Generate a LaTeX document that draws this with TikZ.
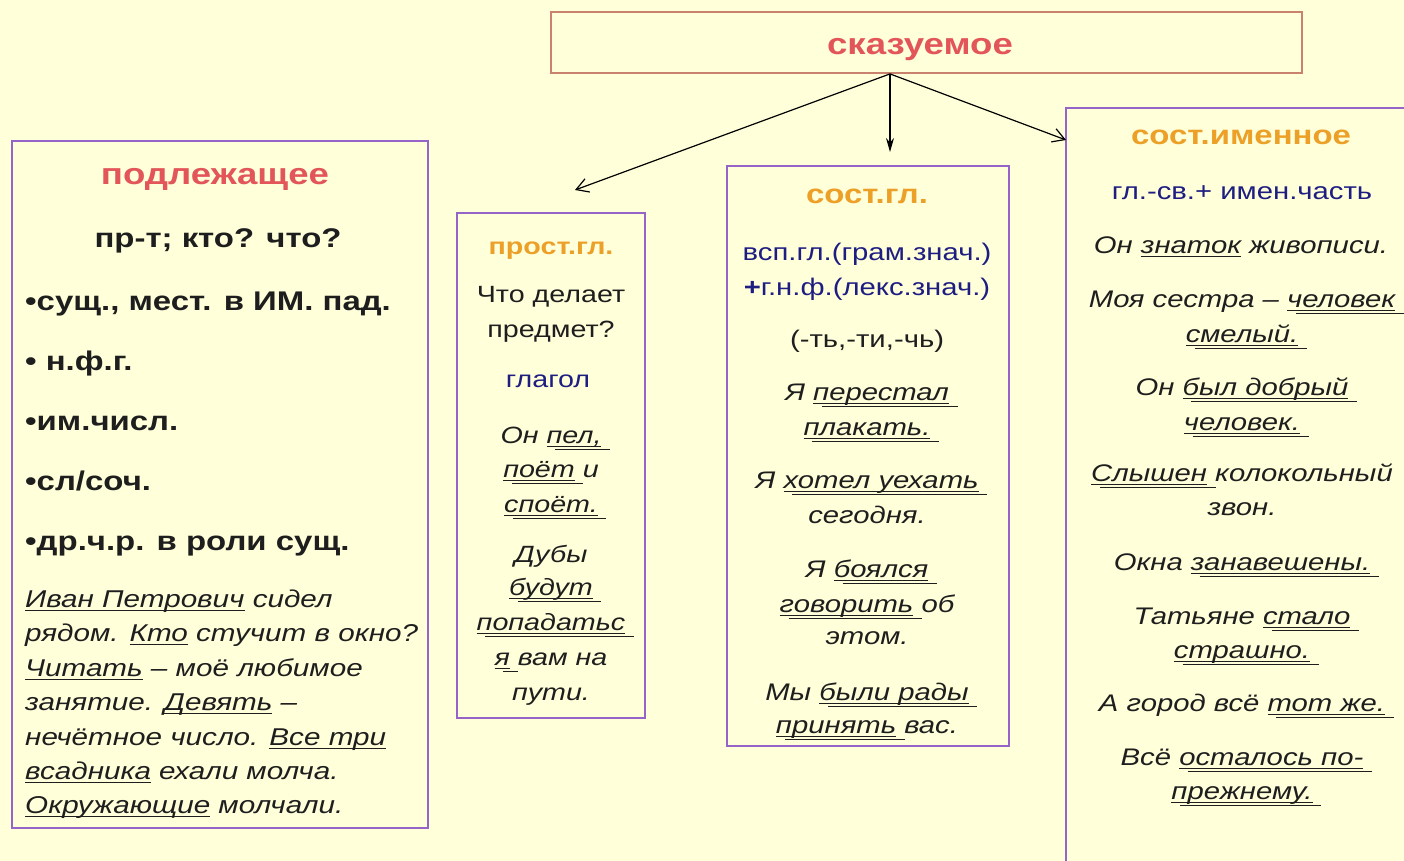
\documentclass[tikz,border=0pt]{standalone}
\usepackage{fontspec}
\setmainfont{Liberation Sans}
\usepackage{graphicx}
\usetikzlibrary{arrows.meta}
\definecolor{bg}{RGB}{255,255,218}
\definecolor{boxline}{RGB}{150,100,200}
\definecolor{topline}{RGB}{200,130,110}
\definecolor{titlered}{RGB}{226,86,90}
\definecolor{titleorange}{RGB}{236,160,40}
\definecolor{navy}{RGB}{30,30,130}
\definecolor{ink}{RGB}{30,30,30}
\newcommand\hs[1]{\scalebox{1.22}[1]{#1}}
\newcommand\fs[1]{\fontsize{#1}{#1}\selectfont}
\newcommand\ul[1]{\setbox0\hbox{#1}\leavevmode\rlap{\rule[-3.5pt]{\wd0}{1pt}}\box0\relax}
\newcommand\uu[1]{\setbox0\hbox{#1}\leavevmode\rlap{\rule[-3.5pt]{\wd0}{1pt}}\rlap{\kern0.3em\rule[-7pt]{\wd0}{1pt}}\box0\relax}
\begin{document}
\begin{tikzpicture}[x=1pt,y=-1pt,
  box/.style={draw=boxline,line width=1.8pt,fill=bg,inner sep=0pt},
  topbox/.style={draw=topline,line width=1.8pt,fill=bg,inner sep=0pt},
  tc/.style={inner sep=0pt,anchor=base,text=ink},
  tl/.style={inner sep=0pt,anchor=base west,text=ink},
  arr/.style={line width=1.2pt,draw=black}]
\clip (0,0) rectangle (1404,861);
\fill[bg] (0,0) rectangle (1404,861);
% boxes
\node[topbox,minimum width=751pt,minimum height=61pt] (top) at (926.5,42.5) {};
\node[box,minimum width=416pt,minimum height=687pt] (left) at (220,484.5) {};
\node[box,minimum width=188pt,minimum height=505pt] (prost) at (551,465.5) {};
\node[box,minimum width=282pt,minimum height=580pt] (sgl) at (868,456) {};
\node[box,minimum width=354pt,minimum height=780pt] (sim) at (1243,498) {};
% top title
\node[tc,text=titlered] (t0) at (920,55) {\fs{30}\bfseries\hs{сказуемое}};
% arrows
\coordinate (src) at ([xshift=-36.5pt]top.south);
\coordinate (e1) at (575,190);
\coordinate (e2) at (890,152);
\coordinate (e3) at (1066,140);
\draw[arr,-{Straight Barb[length=12pt,width=14pt]}] (src) -- (e1);
\draw[arr,-{Stealth[length=14pt,width=8pt]}] (src) -- (e2);
\draw[arr,-{Straight Barb[length=12pt,width=14pt]}] (src) -- (e3);
% left box
\node[tc,text=titlered] (l0) at (215,185) {\fs{30}\bfseries\hs{подлежащее}};
\node[tc] (l1) at (218,247) {\fs{27}\bfseries\hs{пр-т; кто? что?}};
\node[tl] (l2) at (25,310) {\fs{27}\bfseries\hs{•сущ., мест. в ИМ. пад.}};
\node[tl] (l3) at (25,370) {\fs{27}\bfseries\hs{• н.ф.г.}};
\node[tl] (l4) at (25,430) {\fs{27}\bfseries\hs{•им.числ.}};
\node[tl] (l5) at (25,490) {\fs{27}\bfseries\hs{•сл/соч.}};
\node[tl] (l6) at (25,550) {\fs{27}\bfseries\hs{•др.ч.р. в роли сущ.}};
\node[tl] (l7) at (25,607) {\fs{24.3}\itshape\hs{\ul{Иван Петрович} сидел}};
\node[tl] (l8) at (25,641) {\fs{24.3}\itshape\hs{рядом. \ul{Кто} стучит в окно?}};
\node[tl] (l9) at (25,676) {\fs{24.3}\itshape\hs{\ul{Читать} – моё любимое}};
\node[tl] (l10) at (25,710) {\fs{24.3}\itshape\hs{занятие. \ul{Девять} –}};
\node[tl] (l11) at (25,745) {\fs{24.3}\itshape\hs{нечётное число. \ul{Все три}}};
\node[tl] (l12) at (25,779) {\fs{24.3}\itshape\hs{\ul{всадника} ехали молча.}};
\node[tl] (l13) at (25,813) {\fs{24.3}\itshape\hs{\ul{Окружающие} молчали.}};
% prost box
\node[tc,text=titleorange] (p0) at (551,254) {\fs{23.5}\bfseries\hs{прост.гл.}};
\node[tc] (p1) at (551,302) {\fs{23.5}\hs{Что делает}};
\node[tc] (p2) at (551,337) {\fs{23.5}\hs{предмет?}};
\node[tc,text=navy] (p3) at (548,387) {\fs{23.5}\hs{глагол}};
\node[tc] (p4) at (551,443) {\fs{23.5}\itshape\hs{Он \uu{пел,}}};
\node[tc] (p5) at (551,477) {\fs{23.5}\itshape\hs{\uu{поёт} и}};
\node[tc] (p6) at (551,512) {\fs{23.5}\itshape\hs{\uu{споёт.}}};
\node[tc] (p7) at (551,562) {\fs{23.5}\itshape\hs{Дубы}};
\node[tc] (p8) at (551,595) {\fs{23.5}\itshape\hs{\uu{будут}}};
\node[tc] (p9) at (551,630) {\fs{23.5}\itshape\hs{\uu{попадатьс}}};
\node[tc] (p10) at (551,665) {\fs{23.5}\itshape\hs{\uu{я} вам на}};
\node[tc] (p11) at (551,700) {\fs{23.5}\itshape\hs{пути.}};
% sost.gl box
\node[tc,text=titleorange] (s0) at (867,204) {\fs{27}\bfseries\hs{сост.гл.}};
\node[tc,text=navy] (s1) at (867,260) {\fs{24}\hs{всп.гл.(грам.знач.)}};
\node[tc,text=navy] (s2) at (867,295) {\fs{24}\hs{{\bfseries +}г.н.ф.(лекс.знач.)}};
\node[tc] (s3) at (867,347) {\fs{24}\hs{(-ть,-ти,-чь)}};
\node[tc] (s4) at (867,400) {\fs{24}\itshape\hs{Я \uu{перестал}}};
\node[tc] (s5) at (867,435) {\fs{24}\itshape\hs{\uu{плакать.}}};
\node[tc] (s6) at (867,488) {\fs{24}\itshape\hs{Я \uu{хотел уехать}}};
\node[tc] (s7) at (867,523) {\fs{24}\itshape\hs{сегодня.}};
\node[tc] (s8) at (867,577) {\fs{24}\itshape\hs{Я \uu{боялся}}};
\node[tc] (s9) at (867,612) {\fs{24}\itshape\hs{\uu{говорить} об}};
\node[tc] (s10) at (867,644) {\fs{24}\itshape\hs{этом.}};
\node[tc] (s11) at (867,700) {\fs{24}\itshape\hs{Мы \uu{были рады}}};
\node[tc] (s12) at (867,733) {\fs{24}\itshape\hs{\uu{принять} вас.}};
% sost.imen box
\node[tc,text=titleorange] (m0) at (1241,145) {\fs{27}\bfseries\hs{сост.именное}};
\node[tc,text=navy] (m1) at (1242,200) {\fs{24}\hs{гл.-св.+ имен.часть}};
\node[tc] (m2) at (1241,253) {\fs{24}\itshape\hs{Он \ul{знаток} живописи.}};
\node[tc] (m3) at (1242,307) {\fs{24}\itshape\hs{Моя сестра – \uu{человек}}};
\node[tc] (m4) at (1242,342) {\fs{24}\itshape\hs{\uu{смелый.}}};
\node[tc] (m5) at (1242,395) {\fs{24}\itshape\hs{Он \uu{был добрый}}};
\node[tc] (m6) at (1242,430) {\fs{24}\itshape\hs{\uu{человек.}}};
\node[tc] (m7) at (1242,481) {\fs{24}\itshape\hs{\uu{Слышен} колокольный}};
\node[tc] (m8) at (1242,515) {\fs{24}\itshape\hs{звон.}};
\node[tc] (m9) at (1242,570) {\fs{24}\itshape\hs{Окна \uu{занавешены.}}};
\node[tc] (m10) at (1242,624) {\fs{24}\itshape\hs{Татьяне \uu{стало}}};
\node[tc] (m11) at (1242,658) {\fs{24}\itshape\hs{\uu{страшно.}}};
\node[tc] (m12) at (1242,711) {\fs{24}\itshape\hs{А город всё \uu{тот же.}}};
\node[tc] (m13) at (1242,765) {\fs{24}\itshape\hs{Всё \uu{осталось по-}}};
\node[tc] (m14) at (1242,799) {\fs{24}\itshape\hs{\uu{прежнему.}}};
\end{tikzpicture}
\end{document}
